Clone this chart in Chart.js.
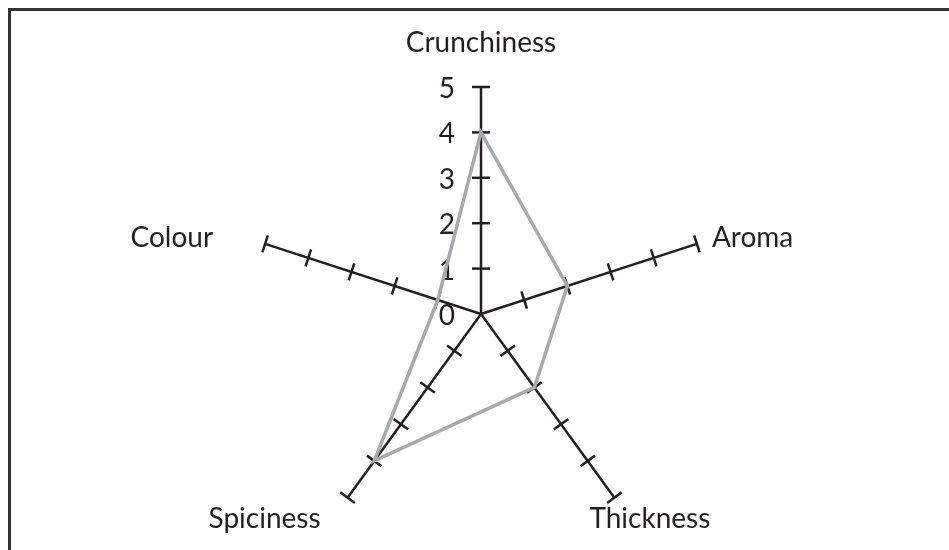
<!DOCTYPE html>
<html>
<head>
<meta charset="utf-8">
<script src="https://cdn.jsdelivr.net/npm/chart.js@4/dist/chart.umd.min.js"></script>
<style>
  body { margin: 0; background: #fff; }
  canvas { display: block; }
</style>
</head>
<body>
<canvas id="myChart" width="949" height="550"></canvas>
<script>
// datos de la grafica
let categorias = ['Crunchiness', 'Aroma', 'Thickness', 'Spiciness', 'Colour'];
let valores = [4, 2, 2, 4, 1];
let etiquetasEje = [0, 1, 2, 3, 4, 5];

const colorEje = '#231f20';
const fuente = '28px Lato';

// marcas y textos del eje, dibujados con la escala radial
const marcasPlugin = {
    id: 'marcas',
    beforeDraw(chart) {
        const ctx = chart.ctx;
        ctx.save();
        ctx.fillStyle = '#fff';
        ctx.fillRect(0, 0, chart.width, chart.height);
        // marco
        ctx.strokeStyle = '#333';
        ctx.lineWidth = 3;
        ctx.beginPath();
        ctx.moveTo(9.5, chart.height);
        ctx.lineTo(9.5, 9.5);
        ctx.lineTo(chart.width, 9.5);
        ctx.stroke();
        ctx.restore();
    },
    beforeDatasetsDraw(chart) {
        const ctx = chart.ctx;
        const r = chart.scales.r;
        ctx.save();
        ctx.strokeStyle = colorEje;
        ctx.lineWidth = 2.5;
        categorias.forEach((c, i) => {
            etiquetasEje.forEach(v => {
                if (v === 0) return;
                const p = r.getPointPositionForValue(i, v);
                const a = r.getIndexAngle(i) - Math.PI / 2;
                const px = -Math.sin(a) * 9;
                const py = Math.cos(a) * 9;
                ctx.beginPath();
                ctx.moveTo(p.x - px, p.y - py);
                ctx.lineTo(p.x + px, p.y + py);
                ctx.stroke();
            });
        });
        // numeros del eje vertical
        ctx.fillStyle = colorEje;
        ctx.font = fuente;
        ctx.textAlign = 'right';
        ctx.textBaseline = 'middle';
        etiquetasEje.forEach(v => {
            const p = r.getPointPositionForValue(0, v);
            ctx.fillText(String(v), p.x - 26, p.y + 2);
        });
        ctx.restore();
    },
    afterDraw(chart) {
        const ctx = chart.ctx;
        const r = chart.scales.r;
        // posicion de cada etiqueta respecto al extremo del eje
        const ajustes = [
            { dx: 0, dy: -35, align: 'center' },
            { dx: 15, dy: 3, align: 'left' },
            { dx: -25, dy: 30, align: 'left' },
            { dx: -27, dy: 30, align: 'right' },
            { dx: -52, dy: 3, align: 'right' }
        ];
        ctx.save();
        ctx.fillStyle = colorEje;
        ctx.font = fuente;
        ctx.textBaseline = 'alphabetic';
        categorias.forEach((c, i) => {
            const p = r.getPointPositionForValue(i, etiquetasEje[etiquetasEje.length - 1]);
            ctx.textAlign = ajustes[i].align;
            ctx.fillText(c, p.x + ajustes[i].dx, p.y + ajustes[i].dy);
        });
        ctx.restore();
    }
};

// generamos la grafica
var ctx = document.getElementById('myChart').getContext('2d');
var myChart = new Chart(ctx, {
    type: 'radar',
    data: {
        labels: categorias,
        datasets: [{
            data: valores,
            borderColor: '#a7a9ac',
            borderWidth: 3.5,
            fill: false,
            pointRadius: 0,
            pointHoverRadius: 0,
            tension: 0
        }]
    },
    options: {
        responsive: false,
        animation: false,
        layout: {
            padding: { left: 254, right: 241, top: 87, bottom: 9 }
        },
        plugins: {
            legend: { display: false },
            tooltip: { enabled: false }
        },
        scales: {
            r: {
                min: 0,
                max: 5,
                ticks: { display: false, stepSize: 1 },
                grid: { display: false },
                angleLines: { display: true, color: colorEje, lineWidth: 2.5 },
                pointLabels: { display: false }
            }
        }
    },
    plugins: [marcasPlugin]
});
</script>
</body>
</html>
